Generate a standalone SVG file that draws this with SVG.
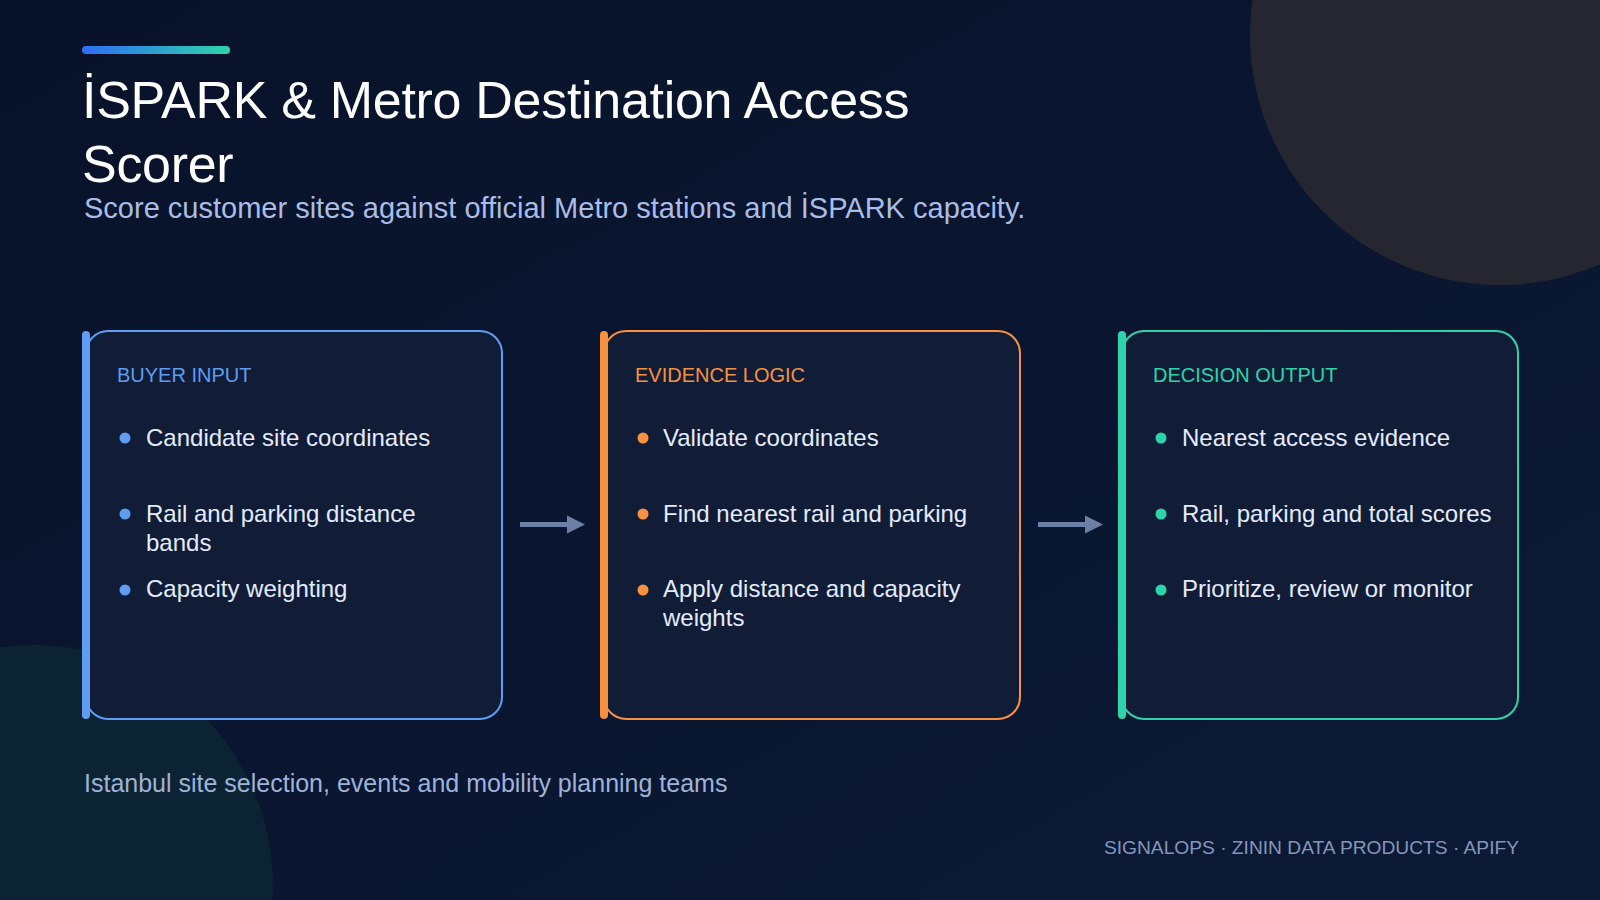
<svg xmlns="http://www.w3.org/2000/svg" width="1600" height="900" viewBox="0 0 1600 900">
  <defs>
    <linearGradient id="bg" x1="0" y1="0" x2="1" y2="1">
      <stop offset="0" stop-color="#08122a"/>
      <stop offset="1" stop-color="#0c1a36"/>
    </linearGradient>
    <linearGradient id="accent" x1="0" y1="0" x2="1" y2="0">
      <stop offset="0" stop-color="#2f6ef5"/>
      <stop offset="1" stop-color="#2dd4aa"/>
    </linearGradient>
    <marker id="arrowhead" viewBox="0 0 10 10" refX="0" refY="5" markerWidth="3.6" markerHeight="4.8" markerUnits="strokeWidth" orient="auto">
      <path d="M0,0 L10,5 L0,10 Z" fill="#6c7fa6"/>
    </marker>
    <style>
      .title { font-family: "Liberation Sans", Arial, sans-serif; font-size: 52px; fill: #ffffff; letter-spacing: -0.3px; }
      .sub { font-family: "Liberation Sans", Arial, sans-serif; font-size: 29px; fill: #a9bde6; }
      .card { fill: #111d37; stroke-width: 2; }
      .bar { stroke-width: 8; stroke-linecap: round; }
      .head { font-family: "Liberation Sans", Arial, sans-serif; font-size: 20px; }
      .item { font-family: "Liberation Sans", Arial, sans-serif; font-size: 24px; fill: #e3ebff; }
      .foot { font-family: "Liberation Sans", Arial, sans-serif; font-size: 25px; fill: #9fb3d8; }
      .brand { font-family: "Liberation Sans", Arial, sans-serif; font-size: 19.2px; fill: #8497bb; }
      .conn { stroke: #6c7fa6; stroke-width: 5; fill: none; }
    </style>
  </defs>

  <rect width="1600" height="900" fill="url(#bg)"/>
  <circle cx="1500" cy="35" r="250" fill="#262631"/>
  <circle cx="33" cy="885" r="240" fill="#0c2333"/>

  <rect x="82" y="46" width="148" height="8" rx="4" fill="url(#accent)"/>
  <text class="title" x="82" y="118">İSPARK &amp; Metro Destination Access</text>
  <text class="title" x="82" y="182">Scorer</text>
  <text class="sub" x="84" y="218">Score customer sites against official Metro stations and İSPARK capacity.</text>

  <g id="connectors">
    <line class="conn" x1="520" y1="524.5" x2="567" y2="524.5" marker-end="url(#arrowhead)"/>
    <line class="conn" x1="1038" y1="524.5" x2="1085" y2="524.5" marker-end="url(#arrowhead)"/>
  </g>

  <g id="buyer-input">
    <rect class="card" x="86" y="331" width="416" height="388" rx="22" stroke="#5e9df2"/>
    <line class="bar" x1="86" y1="335" x2="86" y2="715" stroke="#5e9df2"/>
    <text class="head" x="117" y="382" fill="#5e9df2">BUYER INPUT</text>
    <circle cx="125" cy="438" r="5.5" fill="#5e9df2"/>
    <text class="item" x="146" y="446">Candidate site coordinates</text>
    <circle cx="125" cy="514" r="5.5" fill="#5e9df2"/>
    <text class="item" x="146" y="522">Rail and parking distance</text>
    <text class="item" x="146" y="551">bands</text>
    <circle cx="125" cy="590" r="5.5" fill="#5e9df2"/>
    <text class="item" x="146" y="597">Capacity weighting</text>
  </g>

  <g id="evidence-logic">
    <rect class="card" x="604" y="331" width="416" height="388" rx="22" stroke="#f7913f"/>
    <line class="bar" x1="604" y1="335" x2="604" y2="715" stroke="#f7913f"/>
    <text class="head" x="635" y="382" fill="#f7913f">EVIDENCE LOGIC</text>
    <circle cx="643" cy="438" r="5.5" fill="#f7913f"/>
    <text class="item" x="663" y="446">Validate coordinates</text>
    <circle cx="643" cy="514" r="5.5" fill="#f7913f"/>
    <text class="item" x="663" y="522">Find nearest rail and parking</text>
    <circle cx="643" cy="590" r="5.5" fill="#f7913f"/>
    <text class="item" x="663" y="597">Apply distance and capacity</text>
    <text class="item" x="663" y="626">weights</text>
  </g>

  <g id="decision-output">
    <rect class="card" x="1122" y="331" width="396" height="388" rx="22" stroke="#2dd4aa"/>
    <line class="bar" x1="1122" y1="335" x2="1122" y2="715" stroke="#2dd4aa"/>
    <text class="head" x="1153" y="382" fill="#2dd4aa">DECISION OUTPUT</text>
    <circle cx="1161" cy="438" r="5.5" fill="#2dd4aa"/>
    <text class="item" x="1182" y="446">Nearest access evidence</text>
    <circle cx="1161" cy="514" r="5.5" fill="#2dd4aa"/>
    <text class="item" x="1182" y="522">Rail, parking and total scores</text>
    <circle cx="1161" cy="590" r="5.5" fill="#2dd4aa"/>
    <text class="item" x="1182" y="597">Prioritize, review or monitor</text>
  </g>

  <text class="foot" x="84" y="792">Istanbul site selection, events and mobility planning teams</text>
  <text class="brand" x="1519" y="854" text-anchor="end">SIGNALOPS · ZININ DATA PRODUCTS · APIFY</text>
</svg>
